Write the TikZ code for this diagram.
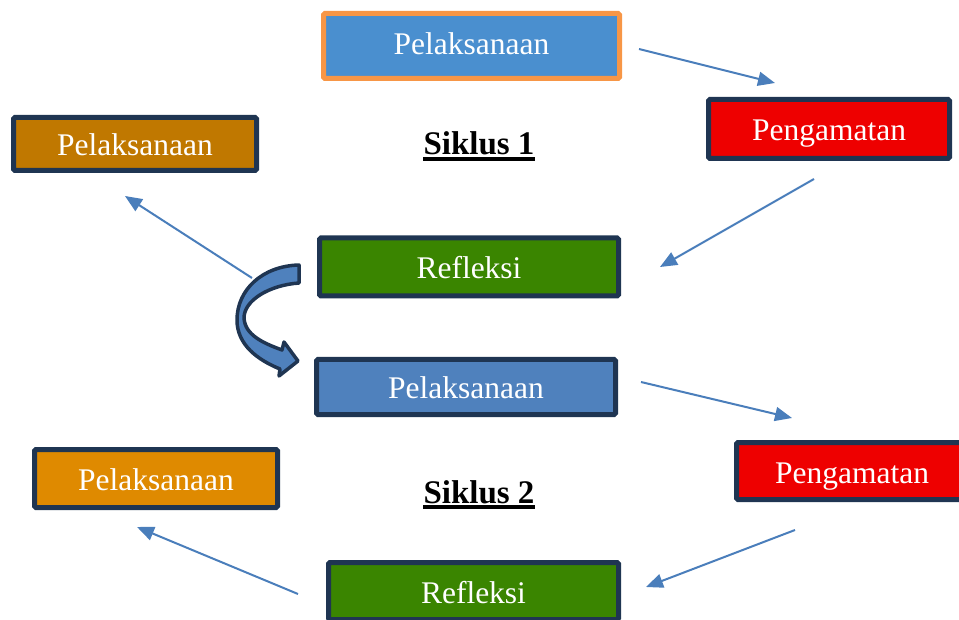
\documentclass[tikz,border=0pt]{standalone}
\usepackage{fontspec}
\setmainfont{Liberation Serif}
\usetikzlibrary{arrows.meta}
\definecolor{navy}{HTML}{1F3552}
\definecolor{arrowblue}{HTML}{4A7EBB}
\definecolor{topblue}{HTML}{4A8FCF}
\definecolor{midblue}{HTML}{4F81BD}
\definecolor{orangeline}{HTML}{F79646}
\definecolor{redfill}{HTML}{EE0000}
\definecolor{brownfill}{HTML}{C07800}
\definecolor{orangefill}{HTML}{DF8A00}
\definecolor{greenfill}{HTML}{3A8500}
\tikzset{
  boxnode/.style={draw=navy, line width=5pt, rounded corners=1.5pt, inner sep=0pt,
    text=white, font=\fontsize{31.5}{33}\selectfont, text height=24pt, text depth=0pt},
  cyclelabel/.style={inner sep=0pt, font=\fontsize{33}{35}\selectfont\bfseries},
  flow/.style={draw=arrowblue, line width=2pt, -{Triangle[length=17pt,width=14pt]}},
}
\begin{document}
\begin{tikzpicture}[x=1pt,y=-1pt]
\path[use as bounding box, clip] (0,0) rectangle (959,620);
% boxes
\node[boxnode, draw=orangeline, fill=topblue, minimum width=296pt, minimum height=65pt, text height=21pt, text depth=4pt] (p1) at (471.5,46) {Pelaksanaan};
\node[boxnode, fill=redfill, minimum width=241pt, minimum height=59pt] (g1) at (829,129) {Pengamatan};
\node[boxnode, fill=brownfill, minimum width=243pt, minimum height=53pt] (l1) at (135,144) {Pelaksanaan};
\node[boxnode, fill=greenfill, minimum width=299pt, minimum height=58pt] (r1) at (469,267) {Refleksi};
\node[boxnode, fill=midblue, minimum width=299pt, minimum height=55pt] (p2) at (466,387) {Pelaksanaan};
\node[boxnode, fill=redfill, minimum width=231pt, minimum height=57pt] (g2) at (852,471) {Pengamatan};
\node[boxnode, fill=orangefill, minimum width=243pt, minimum height=58pt] (l2) at (156,478.5) {Pelaksanaan};
\node[boxnode, fill=greenfill, minimum width=290pt, minimum height=57pt] (r2) at (473.5,591) {Refleksi};
% cycle labels
\node[cyclelabel, anchor=base] (s1) at (479,155) {Siklus 1};
\draw[line width=3.2pt] ([yshift=-4pt]s1.base west) -- ([yshift=-4pt]s1.base east);
\node[cyclelabel, anchor=base] (s2) at (479,503) {Siklus 2};
\draw[line width=3.2pt] ([yshift=-4pt]s2.base west) -- ([yshift=-4pt]s2.base east);
% arrow end points
\coordinate (a1s) at (639,49);  \coordinate (a1e) at (775,83);
\coordinate (a2s) at (814,179); \coordinate (a2e) at (660,267);
\coordinate (a3s) at (252,278); \coordinate (a3e) at (125,196);
\coordinate (a4s) at (641,382); \coordinate (a4e) at (792,418);
\coordinate (a5s) at (795,530); \coordinate (a5e) at (646,587);
\coordinate (a6s) at (298,594); \coordinate (a6e) at (137,527);
\draw[flow] (a1s) -- (a1e);
\draw[flow] (a2s) -- (a2e);
\draw[flow] (a3s) -- (a3e);
\draw[flow] (a4s) -- (a4e);
\draw[flow] (a5s) -- (a5e);
\draw[flow] (a6s) -- (a6e);
% curved block arrow
\draw[navy, line width=3.5pt, line join=round, fill=midblue]
  (299,265) .. controls (262,266) and (237,290) .. (237,320)
  .. controls (237,345) and (258,360) .. (280,369)
  -- (279,376) -- (298,361) -- (284,342) -- (282,350)
  .. controls (263,343) and (245,335) .. (244,318)
  .. controls (244,300) and (270,285) .. (299,283) -- cycle;
\end{tikzpicture}
\end{document}
